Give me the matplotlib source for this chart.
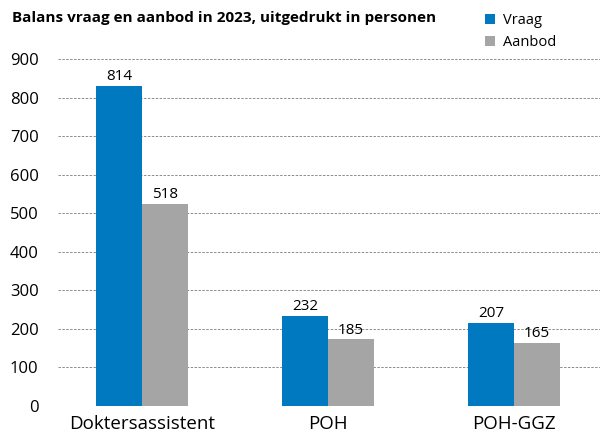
import matplotlib.pyplot as plt
import numpy as np

# categories and values
categories = ['Doktersassistent', 'POH', 'POH-GGZ']
vraag_labels = [814, 232, 207]
aanbod_labels = [518, 185, 165]
# bar heights as drawn in the original (they differ a bit from the labels)
vraag_heights = [831, 233, 216]
aanbod_heights = [524, 172, 164]

blue = '#0079c1'
grey = '#a5a5a5'

plt.rcParams['font.family'] = ['Open Sans', 'DejaVu Sans']

fig = plt.figure(figsize=(6.06, 4.38), dpi=100)
ax = fig.add_axes([0.0957, 0.0737, 0.8943, 0.7913])

x = np.arange(len(categories))
w = 0.247
b1 = ax.bar(x - w / 2, vraag_heights, w, color=blue, label='Vraag', zorder=3)
b2 = ax.bar(x + w / 2, aanbod_heights, w, color=grey, label='Aanbod', zorder=3)

# value labels on top of bars
for bars, labels in ((b1, vraag_labels), (b2, aanbod_labels)):
    for bar, lab in zip(bars, labels):
        ax.text(bar.get_x() + bar.get_width() / 2, bar.get_height() + 4, str(lab),
                ha='center', va='bottom', fontsize=11)

ax.set_ylim(0, 900)
ax.set_yticks(range(0, 901, 100))
ax.set_xlim(-0.4516, 2.462)
ax.set_xticks(x)
ax.set_xticklabels(categories, fontsize=13.5)
ax.tick_params(axis='y', labelsize=12, length=0, pad=14)
ax.tick_params(axis='x', length=0, pad=7)
ax.grid(axis='y', color='#8c8c8c', linestyle=(0, (2.5, 1.5)), linewidth=0.7, zorder=0)
ax.set_axisbelow(True)
for s in ax.spines.values():
    s.set_visible(False)

fig.text(0.02, 0.96, 'Balans vraag en aanbod in 2023, uitgedrukt in personen',
         fontsize=11, fontweight='bold', va='center')
fig.legend(handles=[b1, b2], loc='upper left', bbox_to_anchor=(0.779, 1.0),
           frameon=False, fontsize=10.5, handlelength=0.7, handleheight=0.7,
           handletextpad=0.5, labelspacing=0.5)

fig.savefig('out.png', dpi=100)
